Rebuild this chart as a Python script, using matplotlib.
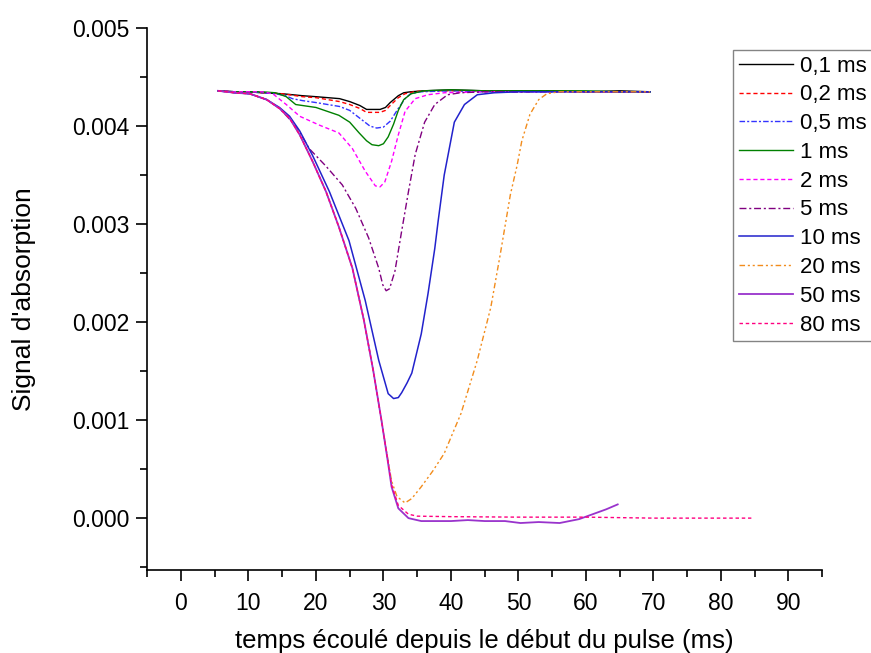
import matplotlib
matplotlib.use('Agg')
import matplotlib.pyplot as plt
from matplotlib.ticker import MultipleLocator, FormatStrFormatter

plt.rcParams['font.family'] = ['Liberation Sans', 'DejaVu Sans']

# durées de pulse (légende)
LABELS = ["0,1 ms", "0,2 ms", "0,5 ms", "1 ms", "2 ms", "5 ms", "10 ms", "20 ms", "50 ms", "80 ms"]

# temps (ms) / signal d'absorption
T_01 = [5.5, 8, 10, 12, 15, 18, 20, 23.5, 25, 26.5, 27.5, 28.5, 29.5, 30.3, 31, 32.2, 33, 34, 36, 40, 45, 50, 55, 60, 65, 69.5]
S_01 = [0.00436, 0.00435, 0.00435, 0.00434, 0.00433, 0.00431, 0.00430, 0.00428, 0.00425, 0.00421, 0.00417, 0.00417, 0.00417,
        0.00419, 0.00424, 0.00431, 0.00434, 0.00435, 0.00436, 0.00437, 0.00436, 0.00436, 0.00436, 0.00435, 0.00436, 0.00435]

T_02 = [5.5, 8, 10, 12, 15, 18, 20, 23.5, 25, 26.5, 27.5, 28.5, 29.5, 30.3, 31, 32.2, 33.2, 34.5, 36, 40, 45, 50, 55, 60, 65, 69.5]
S_02 = [0.00436, 0.00435, 0.00435, 0.00434, 0.00433, 0.00430, 0.00429, 0.00425, 0.00422, 0.00418, 0.00414, 0.00414, 0.00414,
        0.00416, 0.00421, 0.00429, 0.00433, 0.00435, 0.00436, 0.00436, 0.00436, 0.00435, 0.00436, 0.00435, 0.00435, 0.00435]

T_05 = [5.5, 8, 10, 12, 14, 15.5, 16.5, 18, 20, 23.5, 25, 26.5, 28, 29, 30, 31, 32.2, 33.2, 34, 35.5, 40, 45, 50, 55, 60, 65, 69.5]
S_05 = [0.00436, 0.00435, 0.00435, 0.00434, 0.00433, 0.00431, 0.00428, 0.00426, 0.00424, 0.00420, 0.00416, 0.00408, 0.00400,
        0.00398, 0.00399, 0.00405, 0.00418, 0.00428, 0.00433, 0.00435, 0.00436, 0.00435, 0.00435, 0.00435, 0.00435, 0.00435, 0.00435]

T_1 = [5.5, 8, 10, 12, 14, 15.6, 17, 20, 23.4, 25, 26.4, 27.5, 28.3, 29.3, 30, 30.7, 31.5, 32.2, 33, 34.1, 36, 40, 45, 50,
       55, 60, 65, 69.5]
S_1 = [0.00436, 0.00435, 0.00435, 0.00435, 0.00434, 0.00430, 0.00422, 0.00419, 0.00411, 0.00404, 0.00393, 0.00385, 0.00381,
       0.00380, 0.00382, 0.00389, 0.00402, 0.00416, 0.00427, 0.00433, 0.00436, 0.00437, 0.00436, 0.00436, 0.00436, 0.00436,
       0.00435, 0.00435]

T_2 = [5.5, 8, 10, 12, 13.6, 15.6, 17.6, 20.5, 23.4, 25.4, 27.3, 28.8, 29.5, 30.2, 31.2, 32.2, 33.2, 34.7, 36.6, 39, 45, 50,
       55, 60, 65, 69.5]
S_2 = [0.00436, 0.00435, 0.00435, 0.00435, 0.00433, 0.00422, 0.00410, 0.00401, 0.00393, 0.00377, 0.00354, 0.00339, 0.00338,
       0.00343, 0.00364, 0.00391, 0.00415, 0.00428, 0.00432, 0.00434, 0.00435, 0.00435, 0.00435, 0.00435, 0.00435, 0.00435]

T_5 = [5.5, 8, 10.2, 12.7, 14.6, 16.1, 17.5, 19, 21.5, 23.9, 25.9, 27.8, 29.3, 29.9, 30.4, 30.9, 31.7, 32.7, 33.7, 34.7, 36.1,
       37.6, 39.5, 41.4, 45, 50, 55, 60, 65, 69.5]
S_5 = [0.00436, 0.00434, 0.00433, 0.00427, 0.00418, 0.00407, 0.00395, 0.00377, 0.00359, 0.00340, 0.00316, 0.00286, 0.00255,
       0.00238, 0.00232, 0.00234, 0.00252, 0.00293, 0.00333, 0.00371, 0.00404, 0.00422, 0.00432, 0.00434, 0.00435, 0.00435,
       0.00435, 0.00435, 0.00435, 0.00435]

T_10 = [5.5, 8, 10.2, 12.7, 14.6, 16.1, 17.6, 19.5, 22, 24.9, 27.3, 29.3, 30.7, 31.5, 32.2, 32.7, 33.5, 34.2, 35.6, 36.6, 37.6,
        38.1, 39, 40.5, 42, 43.9, 46.4, 50, 55, 60, 65, 69.5]
S_10 = [0.00436, 0.00434, 0.00433, 0.00427, 0.00419, 0.00410, 0.00395, 0.00370, 0.00333, 0.00283, 0.00222, 0.00161, 0.00127,
        0.00122, 0.00123, 0.00128, 0.00138, 0.00148, 0.00188, 0.00229, 0.00275, 0.00303, 0.00350, 0.00404, 0.00422, 0.00432,
        0.00434, 0.00435, 0.00435, 0.00435, 0.00435, 0.00435]

T_20 = [5.5, 8, 10.2, 12.7, 14.6, 16.1, 17.6, 19.5, 21.5, 23.4, 25.4, 27.1, 28.5, 29.7, 30.6, 31.2, 32, 33.2, 34.2, 35.6, 37.3,
        39, 41.5, 43.9, 45.9, 47.3, 48.8, 49.8, 50.5, 51.7, 53, 54.2, 56, 60, 65, 69.5]
S_20 = [0.00436, 0.00434, 0.00433, 0.00427, 0.00418, 0.00408, 0.00391, 0.00364, 0.00333, 0.00297, 0.00255, 0.00202, 0.00150,
        0.00100, 0.00062, 0.00038, 0.00022, 0.000155, 0.00020, 0.00032, 0.00048, 0.00066, 0.00107, 0.00161, 0.00215, 0.00269,
        0.00330, 0.00360, 0.00385, 0.00412, 0.00427, 0.00433, 0.00435, 0.00435, 0.00435, 0.00435]

T_50 = [5.5, 8, 10.2, 12.7, 14.6, 16.1, 17.6, 19.5, 21.5, 23.4, 25.4, 27.1, 28.5, 29.7, 30.6, 31.2, 32.2, 33.7, 35.6, 40, 42.5,
        45, 48, 50.3, 53, 56.1, 59, 61, 63, 64.7]
S_50 = [0.00436, 0.00434, 0.00433, 0.00427, 0.00418, 0.00408, 0.00391, 0.00364, 0.00333, 0.00297, 0.00255, 0.00202, 0.00150,
        0.00100, 0.00060, 0.00032, 0.00010, 0.00000, -0.00003, -0.00003, -0.00002, -0.00003, -0.00003, -0.00005, -0.00004,
        -0.00005, -0.00001, 0.00004, 0.00009, 0.00014]

T_80 = [5.5, 8, 10.2, 12.7, 14.6, 16.1, 17.6, 19.5, 21.5, 23.4, 25.4, 27.1, 28.5, 29.7, 30.6, 31.2, 32.2, 33.7, 35, 40, 50, 60,
        70, 84.5]
S_80 = [0.00436, 0.00434, 0.00433, 0.00427, 0.00418, 0.00408, 0.00391, 0.00364, 0.00333, 0.00297, 0.00255, 0.00202, 0.00150,
        0.00100, 0.00061, 0.00034, 0.00013, 0.00004, 0.00002, 0.000015, 0.00001, 0.00001, 0.00000, 0.00000]

SERIES = [(T_01, S_01), (T_02, S_02), (T_05, S_05), (T_1, S_1), (T_2, S_2),
          (T_5, S_5), (T_10, S_10), (T_20, S_20), (T_50, S_50), (T_80, S_80)]

COULEURS = ['black', '#ff0000', '#3333ff', '#008000', '#ff00ff', '#800080', '#2222cc', '#f28c1c', '#9933cc', '#ff0080']
STYLES = ['-', (0, (3, 2)), (0, (4, 1.5, 1.5, 1.5)), '-', (0, (3, 2)), (0, (5, 2, 1.5, 2)), '-',
          (0, (4, 2, 1.5, 2, 1.5, 2)), '-', (0, (2.5, 2))]
EPAISSEURS = [1.0, 1.0, 1.0, 1.0, 1.0, 1.0, 1.1, 1.0, 1.3, 1.0]

fig = plt.figure(figsize=(8.71, 6.53), dpi=100)
ax = fig.add_axes([0.169, 0.127, 0.775, 0.830])

for (t, s), lab, c, ls, lw in zip(SERIES, LABELS, COULEURS, STYLES, EPAISSEURS):
    ax.plot(t, s, color=c, linestyle=ls, linewidth=lw, label=lab)

ax.set_xlim(-5, 95)
ax.set_ylim(-0.00053, 0.005)
ax.xaxis.set_major_locator(MultipleLocator(10))
ax.xaxis.set_minor_locator(MultipleLocator(5))
ax.yaxis.set_major_locator(MultipleLocator(0.001))
ax.yaxis.set_minor_locator(MultipleLocator(0.0005))
ax.yaxis.set_major_formatter(FormatStrFormatter('%.3f'))

for s in ['top', 'right']:
    ax.spines[s].set_visible(False)
for s in ['left', 'bottom']:
    ax.spines[s].set_linewidth(1.2)

ax.tick_params(which='major', direction='out', length=8, width=1.2, labelsize=16.5)
ax.tick_params(axis='y', which='major', pad=5)
ax.tick_params(axis='x', which='major', pad=8)
ax.tick_params(which='minor', direction='out', length=5, width=1.2)

ax.set_xlabel("temps écoulé depuis le début du pulse (ms)", fontsize=18.5, labelpad=10)
ax.set_ylabel("Signal d'absorption", fontsize=19, labelpad=26)

leg = ax.legend(loc='upper left', bbox_to_anchor=(733 / 871, 1 - 50 / 653), bbox_transform=fig.transFigure,
                borderaxespad=0, fontsize=16, frameon=True, fancybox=False, labelspacing=0.35,
                handlelength=2.45, handletextpad=0.3, borderpad=0.25)
leg.get_frame().set_edgecolor('#666666')
leg.get_frame().set_linewidth(1.0)

fig.savefig('out.png', dpi=100)
